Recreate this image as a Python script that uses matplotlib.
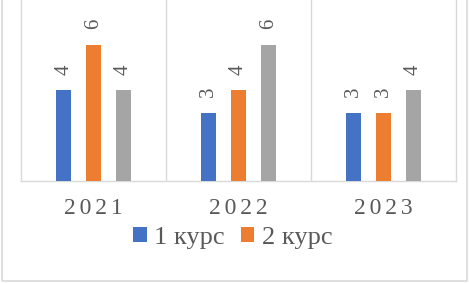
import matplotlib
matplotlib.use("Agg")
import matplotlib.pyplot as plt
from matplotlib.patches import Rectangle, Patch
from matplotlib import font_manager as fm
import numpy as np

categories = ["2021", "2022", "2023"]
series_names = ["1 курс", "2 курс", "3 курс"]
course1 = [4, 3, 3]
course2 = [6, 4, 3]
course3 = [4, 6, 4]
colors = ["#4472C4", "#ED7D31", "#A5A5A5"]

FPATH = fm.findfont(fm.FontProperties(family="Liberation Serif"))


def fp(size):
    return fm.FontProperties(fname=FPATH, size=size)


W, H = 469, 283
fig = plt.figure(figsize=(W / 100, H / 100), dpi=100)
fig.patch.set_facecolor("white")

# outer chart frame (top cropped)
fig.add_artist(Rectangle((1.5 / W, 2.5 / H), 465 / W, 1.2, transform=fig.transFigure,
                         fill=False, edgecolor="#D9D9D9", linewidth=1.2))

left, right, base = 21, 456, 181
ax = fig.add_axes([left / W, (H - base) / H, (right - left) / W, base / H])
ax.set_facecolor("none")

x = np.arange(len(categories))
offs = [-0.205, 0.0, 0.205]
width = 0.104
grey = "#595959"
for vals, off, c, name in zip([course1, course2, course3], offs, colors, series_names):
    bars = ax.bar(x + off, vals, width=width, color=c, label=name, zorder=3)
    for b, v in zip(bars, vals):
        ax.annotate(str(v), (b.get_x() + b.get_width() / 2, v), xytext=(0, 11),
                    textcoords="offset points", rotation=90, ha="center", va="bottom",
                    fontproperties=fp(15), color=grey)

ax.set_xlim(-0.5, len(categories) - 0.5)
ax.set_ylim(0, 181 / 22.75)
ax.set_yticks([])
ax.set_xticks(x)
ax.set_xticklabels(["\u2006".join(c) for c in categories], fontproperties=fp(17), color=grey)
ax.tick_params(axis="x", length=0, pad=12)
for xb in [0.5, 1.5]:
    ax.axvline(xb, color="#D9D9D9", linewidth=1, zorder=1)
for s in ["left", "right", "bottom"]:
    ax.spines[s].set_color("#D9D9D9")
    ax.spines[s].set_linewidth(1)
ax.spines["top"].set_visible(False)

handles = [Patch(facecolor=colors[0]), Patch(facecolor=colors[1])]
fig.legend(handles, series_names[:2], loc="center", bbox_to_anchor=(233 / W, 1 - 238 / H),
           ncol=2, frameon=False, prop=fp(19), labelcolor=grey,
           handlelength=0.5, handleheight=0.5, handletextpad=0.3, columnspacing=0.6,
           borderpad=0)

fig.savefig("out.png", dpi=100)
